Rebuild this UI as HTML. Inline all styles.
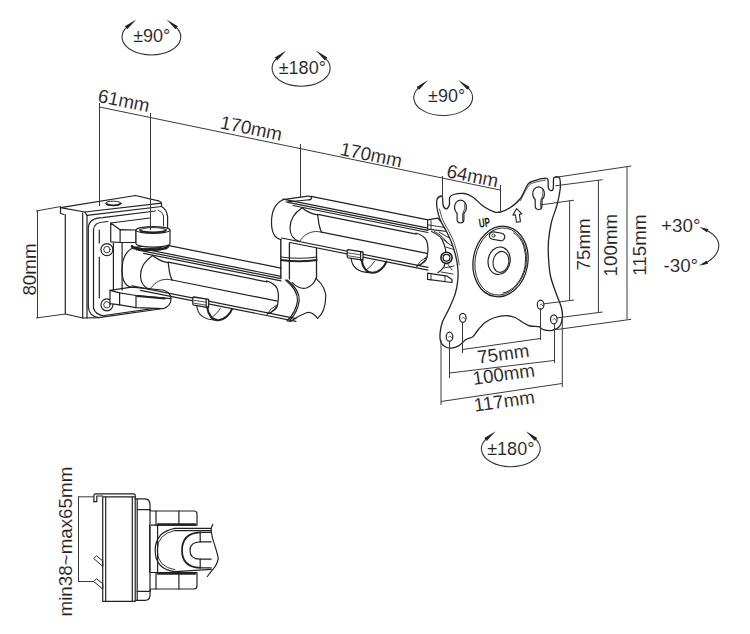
<!DOCTYPE html>
<html><head><meta charset="utf-8">
<style>
html,body{margin:0;padding:0;background:#fff;}
svg{display:block;}
text{font-family:"Liberation Sans",sans-serif;fill:#222;stroke:#fff;stroke-width:0.1px;}
</style></head>
<body>
<svg width="750" height="634" viewBox="0 0 750 634">
<path d="M126.8,27.1 A29.4,18 0 1,0 176.0,27.1" stroke="#333" stroke-width="1.1" fill="none"/>
<path d="M136.3,19.4 L127.3,29.2 L124.9,26.3 Z" fill="#222"/>
<path d="M166.5,19.4 L177.9,26.3 L175.5,29.2 Z" fill="#222"/>
<text x="151.7" y="42.4" text-anchor="middle" font-size="18">±90°</text>
<path d="M276.8,58.3 A29.1,18 0 1,0 325.4,58.3" stroke="#333" stroke-width="1.1" fill="none"/>
<path d="M286.3,50.6 L277.2,60.4 L274.8,57.5 Z" fill="#222"/>
<path d="M315.9,50.6 L327.4,57.5 L325.0,60.4 Z" fill="#222"/>
<text x="302.3" y="73.6" text-anchor="middle" font-size="18">±180°</text>
<path d="M418.6,87.7 A29.4,18 0 1,0 467.8,87.7" stroke="#333" stroke-width="1.1" fill="none"/>
<path d="M428.1,80.0 L419.1,89.8 L416.7,86.9 Z" fill="#222"/>
<path d="M458.3,80.0 L469.7,86.9 L467.3,89.8 Z" fill="#222"/>
<text x="446.6" y="101.8" text-anchor="middle" font-size="18">±90°</text>
<path d="M486.2,438.9 A29.4,18 0 1,0 535.4,438.9" stroke="#333" stroke-width="1.1" fill="none"/>
<path d="M495.7,431.2 L486.7,441.0 L484.3,438.1 Z" fill="#222"/>
<path d="M525.9,431.2 L537.3,438.1 L534.9,441.0 Z" fill="#222"/>
<text x="510.8" y="455.4" text-anchor="middle" font-size="18">±180°</text>
<path d="M703,228.5 C713,233 719,239 718.8,246 C718.5,253 713,259.5 703,264.5" stroke="#333" stroke-width="1.1" fill="none"/>
<path d="M699.6,227 L708.5,229.2 L706.8,232.3 Z M699,265.5 L706.5,260.7 L708.2,263.8 Z" fill="#222"/>
<g stroke="#222" stroke-width="1.2" fill="none" stroke-linejoin="round" stroke-linecap="round">

<path d="M60.5,207.7 L135.5,195.5 L158.5,200.8 Q161.5,201.8 161.5,204 L161.5,206.5"/>
<path d="M60.5,207.7 L60.5,213.5 L64,214.5"/>
<path d="M60.5,207.7 L84.8,212 L87,215.4"/>
<path d="M84.8,212 L161.5,203.2"/>
<path d="M87,215.4 L161.5,206.5"/>
<ellipse cx="113.4" cy="203.4" rx="8" ry="2.2" stroke-width="1"/>
<path d="M107,203.8 A6.4,1.5 0 0,0 119.8,203.8" stroke-width="1.8"/>
<path d="M65.3,214.5 L65.3,314 L82.7,318"/>
<path d="M82.7,213 L82.7,318 L98.7,317.7 L160,309"/>
<path d="M87,215.4 L87,318"/>
<path d="M88.3,307 L88.3,227.5 Q89,218 102.5,217.6 L155.4,211"/>
<path d="M88.3,307 Q89,316 98.7,317.7"/>
<path d="M93.5,308 L93.5,229.7 Q94,222.5 103.6,222 L108,221.5"/>
<path d="M93.5,308 Q95,314.5 104,316"/>
<path d="M104,315.5 L160,307.7"/>
<path d="M99.3,230 L99.3,243 M99.3,257 L99.3,298"/>
<path d="M161.5,206.5 Q166.5,209 167.6,216.5 L167.6,228"/>
<path d="M158,210 Q163,212 163.5,216 L163.5,226" stroke-width="0.9"/>
<circle cx="106.9" cy="249.6" r="6"/>
<circle cx="106.9" cy="249.6" r="3.2" stroke-width="0.9"/>
<circle cx="106.9" cy="304.8" r="6"/>
<circle cx="106.9" cy="304.8" r="3.2" stroke-width="0.9"/>

<path d="M110,290.3 L131.6,287.2 L163,290 Q171,292 171,299 Q171,306 163,308.7 L136,307.7 L120,304.9 L110,303.7 Z" fill="#fff"/>
<path d="M110,290.3 L119.6,292.9 L136,295.5 L170.8,298.6" />
<path d="M119.6,292.9 L119.6,304.9"/>

<path d="M136,295.5 L136,307.7"/>
<path d="M137,296 L165,298.5" stroke-width="1.8"/>
<path d="M161.5,244.2 L281.0,268.1"/>
<path d="M133.5,246.9 L281.0,276.4"/>
<path d="M138.5,250.1 L281.0,278.6"/>
<path d="M143.5,253.3 L281.0,280.8"/>
<path d="M168.2,262.1 L266.9,281.9"/>
<path d="M172.0,280.0 L277.5,301.1"/>
<path d="M132.0,285.8 L296.0,318.6"/>
<path d="M140.5,290.3 L296.0,321.4"/>
<g transform="translate(-149.5,47.8)">
<path d="M283,199.7 C274,204 271.5,214 271.5,222 C271.5,232 275,238.5 281,239.5"/>
<path d="M302.2,207.7 C294,213 290,220 290,228 C290,235 294,240 299.5,241.6"/>
<path d="M302.2,207.7 Q308,213 317.7,214.9"/>
<path d="M317.7,214.9 C318.5,220 318.5,226 321.5,232.2"/>
<path d="M299.5,241.6 C303,236 308,232 315.5,231.5 Q319,231.5 321.5,232.2" stroke-width="0.9"/>
<path d="M415.9,233 C421,234.5 424.7,236.6 426.5,240.5 C428,244 428.2,250 427.4,255 C427,258 425.5,261 424.7,261.5 C422,264 419.5,265.5 416.7,266.2"/>
<path d="M416.7,266.2 Q419,261 427.1,256.6 M417.5,266 Q424,263 426,258" stroke-width="0.9"/>
<path d="M283,199.7 L308,196.2 Q312,196 311.5,198.5 Q311,200 307,200 L286,202" />
</g>

<path d="M287.2,280 Q300,290 299.2,300.8 Q298,312 288.8,321.6"/>
<path d="M285.5,280 Q298,290 297.5,300.8 Q296,312 287,321"/>
<path d="M316,278.4 Q327,288 325.6,299 Q325,312 317.6,318.4"/>
<path d="M292,282.4 Q300,290 306.4,288 Q314,285 316,278.4"/>
<path d="M317.6,318.4 Q312,311 306.4,312.8 Q298,316 290.4,321.6"/>

<path d="M193.8,297 L208.60000000000002,299.4 L208.60000000000002,307.6 L193.8,305.2 Q192.8,305 192.8,303.5 L192.8,298.5 Q192.8,297 193.8,297 Z" fill="#fff" stroke-width="1.3"/>
<path d="M206.20000000000002,299.1 L206.20000000000002,307.3"/>
<path d="M194.0,300.3 L205.8,302.2 M194.0,303.2 L205.8,305.1" stroke-width="0.8"/>
<path d="M196.8,306.3 C197.8,314 202.8,319.5 214.3,320" stroke-width="1.1"/>
<path d="M207.20000000000002,307.4 C208.3,315 212.3,320.5 218.3,320.2 C224.8,319.8 230.3,314 232.0,309" stroke-width="2.1"/>
<path d="M213.0,316.4 Q216.8,314 220.3,308.5" stroke-width="0.9"/>

<path d="M113.4,243 L113.4,290 M122.1,243 L122.1,290" />
<path d="M110.7,223 L120.1,229.7 L136,230 L136,242.5 L120.1,242.5 L120.1,229.7 M110.7,223 L110.7,241.8 L120.1,242.5"/>
<path d="M110.7,223 L150,218"/>
<path d="M136,230 L136,243.5 A17,3.6 0 0,0 170,243.5 L170,230 Z" fill="#fff"/>
<ellipse cx="153" cy="230" rx="17" ry="3.4" fill="#fff" stroke-width="1.1"/>
<path d="M140,230 A13,2.4 0 0,1 166,230" stroke-width="0.9"/>
<path d="M140,230 A13,2.4 0 0,0 166,230" stroke-width="1.8"/>
<path d="M132,246.3 A18,3.5 0 0,0 168,246.3" stroke-width="2.6"/>



<path d="M280.8,239.5 L280.8,277.5" stroke-width="1.4"/>
<path d="M289.4,243 L289.4,279" stroke-width="1.3"/>
<path d="M316.5,248.5 L316.5,278.4" stroke-width="1.3"/>
<path d="M281,257 Q299,259.5 316.8,257"/>
<path d="M281,260 Q299,262.5 316.8,260" stroke-width="1.8"/>

<path d="M311.0,196.4 L428.0,219.8"/>
<path d="M283.0,199.1 L428.0,228.1"/>
<path d="M288.0,202.3 L428.0,230.3"/>
<path d="M293.0,205.5 L428.0,232.5"/>
<path d="M317.7,214.3 L416.4,234.1"/>
<path d="M321.5,232.2 L427.0,253.3"/>
<path d="M281.5,238.0 L428.0,267.3"/>
<path d="M290.0,242.5 L428.0,270.1"/>
<g transform="translate(0,0)">
<path d="M283,199.7 C274,204 271.5,214 271.5,222 C271.5,232 275,238.5 281,239.5"/>
<path d="M302.2,207.7 C294,213 290,220 290,228 C290,235 294,240 299.5,241.6"/>
<path d="M302.2,207.7 Q308,213 317.7,214.9"/>
<path d="M317.7,214.9 C318.5,220 318.5,226 321.5,232.2"/>
<path d="M299.5,241.6 C303,236 308,232 315.5,231.5 Q319,231.5 321.5,232.2" stroke-width="0.9"/>
<path d="M415.9,233 C421,234.5 424.7,236.6 426.5,240.5 C428,244 428.2,250 427.4,255 C427,258 425.5,261 424.7,261.5 C422,264 419.5,265.5 416.7,266.2"/>
<path d="M416.7,266.2 Q419,261 427.1,256.6 M417.5,266 Q424,263 426,258" stroke-width="0.9"/>
<path d="M283,199.7 L308,196.2 Q312,196 311.5,198.5 Q311,200 307,200 L286,202" />
</g>
<path d="M348.2,249.6 L363.0,252.0 L363.0,260.2 L348.2,257.8 Q347.2,257.6 347.2,256.1 L347.2,251.1 Q347.2,249.6 348.2,249.6 Z" fill="#fff" stroke-width="1.3"/>
<path d="M360.59999999999997,251.7 L360.59999999999997,259.9"/>
<path d="M348.4,252.9 L360.2,254.79999999999998 M348.4,255.79999999999998 L360.2,257.7" stroke-width="0.8"/>
<path d="M351.2,258.9 C352.2,266.6 357.2,272.1 368.7,272.6" stroke-width="1.1"/>
<path d="M361.59999999999997,260.0 C362.7,267.6 366.7,273.1 372.7,272.8 C379.2,272.4 384.7,266.6 386.4,261.6" stroke-width="2.1"/>
<path d="M367.4,269.0 Q371.2,266.6 374.7,261.1" stroke-width="0.9"/>

<path d="M427.6,219.8 L437.9,218.1 L447.3,229.2 L447.3,231.5 L427.6,229.2 Z" fill="#fff"/>
<path d="M427.6,224.8 L445,227.5 M431,220.5 L431,229.5" stroke-width="0.9"/>
<path d="M427.6,273.2 L447.3,276.2 L452,279.4 L452,282.5 L427.6,279.4 Z" fill="#fff"/>
<path d="M431,273.8 L431,280 M445,276 L445,281.5" stroke-width="0.9"/>
<path d="M431.5,231.5 C437,234 442,238 442.6,241 C445,246 445.7,249 445.7,252 C445.7,258 445.5,262 444.2,266.2 C442,270 440,271.5 437.9,272.6"/>
<path d="M434.5,231.5 C440,234 445,239 447,243" stroke-width="0.9"/>
<path d="M439,232 L451,239 M441,238 L452,246 M446,247 L455,250 M444,268 L454,266 M441,272 L453,274 M447,263 L452,270" stroke-width="0.9"/>
<circle cx="446.5" cy="257.8" r="5.6" fill="#fff" stroke-width="1.6"/>
<circle cx="446.5" cy="257.8" r="3.4" stroke-width="1.3"/>

<path d="M437.1,199.2 C437.8,197.0 440.6,196.2 441.5,196.0 C442.4,195.8 442.3,196.4 442.6,198.0 C442.9,199.6 442.6,203.7 443.2,205.5 C443.8,207.3 445.3,208.9 446.3,208.8 C447.3,208.7 448.7,206.9 449.3,205.0 C449.9,203.1 449.0,199.3 449.7,197.6 C450.4,195.8 451.3,195.2 453.7,194.5 C456.1,193.8 460.9,193.1 464.1,193.5 C467.3,193.9 469.5,194.9 472.7,197.0 C475.9,199.1 479.8,203.8 483.3,206.3 C486.9,208.8 491.1,210.9 494.0,211.8 C496.9,212.8 497.7,212.7 500.4,212.0 C503.1,211.3 506.7,209.9 510.0,207.7 C513.3,205.5 517.0,202.9 520.0,199.0 C523.0,195.1 525.7,187.2 528.0,184.2 C530.3,181.2 531.1,181.8 534.0,180.8 C536.9,179.8 543.3,178.3 545.6,178.2 C547.9,178.1 547.5,178.3 548.0,180.0 C548.5,181.7 547.9,186.4 548.4,188.2 C548.9,190.0 550.0,190.5 550.8,190.6 C551.6,190.7 552.7,191.0 553.2,189.0 C553.7,187.0 553.2,180.5 553.6,178.5 C554.0,176.5 554.7,177.2 555.5,177.0 C556.3,176.8 557.6,176.6 558.4,177.0 C559.1,177.4 559.7,177.5 560.0,179.5 C560.3,181.5 560.7,184.8 560.2,189.0 C559.7,193.2 558.5,199.5 557.0,205.0 C555.5,210.5 552.9,216.2 551.5,222.0 C550.1,227.8 549.1,234.3 548.6,240.0 C548.1,245.7 548.1,250.0 548.4,256.0 C548.7,262.0 549.2,269.8 550.5,276.0 C551.8,282.2 554.2,287.7 556.0,293.0 C557.8,298.3 560.5,303.8 561.5,308.0 C562.5,312.2 562.7,314.9 562.3,318.0 C561.9,321.1 561.0,324.6 559.3,326.7 C557.6,328.8 554.7,329.8 552.0,330.3 C549.3,330.8 545.4,330.2 543.2,329.6 C541.0,329.0 541.0,327.3 538.8,326.7 C536.6,326.1 532.6,326.7 530.0,326.0 C527.4,325.3 525.5,323.9 523.0,322.5 C520.5,321.1 517.9,318.6 515.0,317.5 C512.1,316.4 509.1,315.6 505.8,315.6 C502.5,315.6 498.5,316.4 495.0,317.5 C491.5,318.6 487.8,320.4 485.0,322.5 C482.2,324.6 480.0,327.6 478.0,330.0 C476.0,332.4 474.9,335.1 472.9,336.7 C470.9,338.3 468.3,338.0 466.0,339.5 C463.7,341.0 461.4,344.2 459.0,345.6 C456.6,347.0 453.7,347.9 451.4,348.1 C449.1,348.3 446.9,347.9 445.1,346.8 C443.3,345.8 441.5,344.1 440.7,341.8 C439.9,339.5 439.8,336.4 440.1,333.0 C440.4,329.6 441.1,325.6 442.6,321.6 C444.1,317.6 446.8,313.6 448.9,309.0 C451.0,304.4 453.7,298.7 455.2,293.9 C456.7,289.1 457.4,284.3 457.8,280.0 C458.2,275.7 458.2,272.2 457.8,268.0 C457.4,263.8 456.6,259.2 455.5,255.0 C454.4,250.8 453.0,246.4 451.5,242.5 C450.0,238.6 448.3,235.2 446.5,231.5 C444.7,227.8 442.1,224.2 440.5,220.5 C438.9,216.8 437.8,212.6 437.2,209.0 C436.6,205.4 436.4,201.4 437.1,199.2 Z" fill="#fff" stroke-width="1.3"/>
<path d="M439.5,209.0 C440.1,210.9 441.4,216.8 443.0,220.5 C444.6,224.2 447.2,227.8 449.0,231.5 C450.8,235.2 452.6,238.6 454.0,242.5 C455.4,246.4 456.6,251.2 457.5,255.0 C458.4,258.8 458.9,263.3 459.2,265.0" stroke-width="0.8"/>
<path d="M520.5,200.5 C521.8,198.1 526.2,189.0 528.5,186.0 C530.8,183.0 531.1,183.6 534.0,182.6 C536.9,181.6 543.7,180.4 545.6,180.0" stroke-width="0.8"/>
<path d="M457.1,213.2 A6.0,7.2 0 1,1 463.9,213.2 L463.9,219.6 A3.4,3.4 0 0,1 457.1,219.6 Z" stroke-width="1.2"/>
<path d="M535.2,199.5 A5.9,7.0 0 1,1 542.0,199.5 L542.0,206.1 A3.4,3.4 0 0,1 535.2,206.1 Z" stroke-width="1.2"/>
<path d="M464.9,203 Q465.6,209 462.6,214 L462.6,221" stroke-width="0.8"/><path d="M543,189.5 Q543.7,195.5 540.7,200.5 L540.7,207.5" stroke-width="0.8"/>
<ellipse cx="449.5" cy="336.7" rx="3.3" ry="4.5" stroke-width="1.2"/>
<path d="M448.5,337.2 Q450.5,334.7 451.5,337.7" stroke-width="0.7"/>
<ellipse cx="462.8" cy="317.8" rx="3.3" ry="4.5" stroke-width="1.2"/>
<path d="M461.8,318.3 Q463.8,315.8 464.8,318.8" stroke-width="0.7"/>
<ellipse cx="540.6" cy="304.7" rx="3.3" ry="4.5" stroke-width="1.2"/>
<path d="M539.6,305.2 Q541.6,302.7 542.6,305.7" stroke-width="0.7"/>
<ellipse cx="553.8" cy="319.3" rx="3.3" ry="4.5" stroke-width="1.2"/>
<path d="M552.8,319.8 Q554.8,317.3 555.8,320.3" stroke-width="0.7"/>
<g transform="translate(500.5,261.5) rotate(10)">
<ellipse cx="0" cy="0" rx="27.3" ry="35.5" stroke-width="1.3"/>
<ellipse cx="0.2" cy="0" rx="25.6" ry="33.8" stroke-width="0.9"/>
<path d="M8,-30.5 A22.6,31.5 0 0,1 8,30.5" stroke-width="0.9"/>
<ellipse cx="-1.5" cy="-0.5" rx="11" ry="13.8" stroke-width="1.2"/>
<ellipse cx="0.5" cy="0.3" rx="7.8" ry="10.6" stroke-width="1.1"/>
<rect x="-15.5" y="-28" width="15.5" height="7.5" rx="3.7" stroke-width="1.2"/>
<circle cx="-11.5" cy="-24.3" r="1.6" stroke-width="0.8"/>
</g>
<text transform="translate(479.5,227.8) rotate(-8) scale(0.62,1)" font-size="12.8" font-weight="bold" style="fill:#111;stroke:none">UP</text>
<g transform="translate(517.5,215) rotate(-8)"><path d="M0,-6.5 L-4.5,-0.5 L-2,-0.5 L-2,7 L2,7 L2,-0.5 L4.5,-0.5 Z" stroke-width="1.1" fill="#fff"/></g>

<path d="M93.9,501.7 L93.9,495.5 Q93.9,493.9 95.5,493.9 L133.6,493.9 Q135.2,493.9 135.2,495.5 L135.2,496.8"/>
<path d="M93.9,501.7 L96.8,501.7 L96.8,496 L102.7,496"/>
<path d="M102.7,496.8 L102.7,601.3 L135.2,601.3 L135.2,496.8 Z"/>
<path d="M105.7,497 L105.7,601"/>
<path d="M132.3,497 L132.3,601"/>
<path d="M135.2,498.8 L145,498.8 Q150,499 150,504.7 L150,595 Q150,600.3 145,600.3 L135.2,600.3"/>
<path d="M137.2,499 L137.2,600"/>
<path d="M137.2,509.6 L150,509.6 M137.2,591.4 L150,591.4"/>
<path d="M96.2,556 L93.7,558.5 L102.8,566.4 L102.8,561.4 Z M96.2,579 L93.7,581.5 L102.8,589.1 L102.8,584.1 Z" stroke-width="1"/>
<path d="M150,509.6 Q150,511 151.3,511 L194,511 Q197,511 197,514 L197,525.2 L151.3,525.2"/>
<path d="M156,511 L156,525.2 M178.9,511 L178.9,525.2"/>
<path d="M158,524.5 L195,524.5" stroke-width="2.4"/>
<path d="M151.3,572.5 L197,572.5 L197,586 Q197,589 194,589 L151.3,589 Q150,589 150,591.4"/>
<path d="M156,572.5 L156,589 M178.9,572.5 L178.9,589"/>
<path d="M158,573.5 L195,573.5" stroke-width="2.4"/>
<path d="M149.7,525.2 L149.7,572.5 M157.6,525.2 L157.6,572.5"/>
<path d="M175,528.4 Q155.2,532 155.2,550.4 Q155.2,569 175,571.7"/>
<path d="M175,530.4 Q157.2,534 157.2,550.4 Q157.2,567 175,569.7" stroke-width="0.9"/>
<path d="M175,528.4 L211.2,528.4 M175,530.7 L211.2,530.7 M175,571.7 L211.2,569.4"/>
<path d="M200.2,532.3 Q182,533 182,550.4 Q182,567 200.2,567.8" stroke-width="1.8"/>
<path d="M200.2,541.8 Q190,542 190,550.4 Q190,559 200.2,559.1"/>
<path d="M200.2,532.3 L211.2,532.3 M200.2,541.8 L211.2,541.8 M200.2,559.1 L211.2,559.1 M200.2,567.8 L211.2,567.8 M200.2,532.3 L200.2,541.8 M200.2,559.1 L200.2,567.8"/>
<path d="M212.8,524.4 Q210.5,529 211.2,531.5 Q212,538 214.4,544.1 Q217,552 218.3,558.3 Q217,565 212.8,569.4 Q210,573 207.3,576.5"/>

</g>
<g stroke="#3a3a3a" stroke-width="1" fill="none">
<line x1="99.5" y1="107" x2="500" y2="190"/>
<line x1="99.5" y1="103" x2="99.5" y2="206"/>
<line x1="150.5" y1="113" x2="150.5" y2="230"/>
<line x1="300.5" y1="144" x2="300.5" y2="197"/>
<line x1="442.5" y1="176" x2="442.5" y2="199"/>
<line x1="500.5" y1="185" x2="500.5" y2="212"/>
<line x1="37.5" y1="211" x2="37.5" y2="318"/>
<line x1="36" y1="211" x2="61" y2="206.5"/>
<line x1="36" y1="318" x2="65.5" y2="314"/>
<line x1="462.5" y1="349.5" x2="540.5" y2="338.5"/>
<line x1="462.5" y1="322" x2="462.5" y2="353"/>
<line x1="540.5" y1="308" x2="540.5" y2="340"/>
<line x1="449.5" y1="373" x2="554" y2="360.5"/>
<line x1="449.5" y1="341" x2="449.5" y2="378"/>
<line x1="554.5" y1="323" x2="554.5" y2="363"/>
<line x1="441" y1="401.5" x2="562" y2="383.5"/>
<line x1="441" y1="340" x2="441" y2="405"/>
<line x1="562.3" y1="318" x2="562.3" y2="387"/>
<line x1="569.6" y1="200.5" x2="569.6" y2="300.3"/>
<line x1="540" y1="205" x2="574" y2="200.2"/>
<line x1="543.2" y1="303.9" x2="574" y2="300"/>
<line x1="598.4" y1="180" x2="598.4" y2="312"/>
<line x1="555.2" y1="185.8" x2="602.7" y2="179.7"/>
<line x1="557" y1="317.9" x2="602.6" y2="312"/>
<line x1="627" y1="166.5" x2="627" y2="319.5"/>
<line x1="555.2" y1="177.4" x2="631.3" y2="166"/>
<line x1="556.4" y1="329.6" x2="631.2" y2="319.3"/>
<line x1="78.5" y1="496.8" x2="78.5" y2="581.5"/>
<line x1="78" y1="496.8" x2="93.9" y2="496.8"/>
<line x1="78" y1="581.5" x2="93.7" y2="581.5"/>
</g>
<g font-size="18.8">
<text transform="translate(122.5,107) rotate(11.7)" text-anchor="middle">61mm</text>
<text transform="translate(250,134.6) rotate(11.7)" text-anchor="middle">170mm</text>
<text transform="translate(369.8,161) rotate(11.7)" text-anchor="middle">170mm</text>
<text transform="translate(471.3,182.2) rotate(11.7)" text-anchor="middle">64mm</text>
<text transform="translate(36.2,269.5) rotate(-90)" text-anchor="middle">80mm</text>
<text transform="translate(504.1,360.2) rotate(-8)" text-anchor="middle">75mm</text>
<text transform="translate(504.6,380.6) rotate(-8)" text-anchor="middle">100mm</text>
<text transform="translate(505.1,407.4) rotate(-8)" text-anchor="middle">117mm</text>
<text transform="translate(589.9,244.4) rotate(-90)" text-anchor="middle">75mm</text>
<text transform="translate(617.1,245.1) rotate(-90)" text-anchor="middle">100mm</text>
<text transform="translate(646.2,245.1) rotate(-90)" text-anchor="middle">115mm</text>
<text transform="translate(71.8,541.6) rotate(-90)" text-anchor="middle">min38~max65mm</text>
<text x="680.8" y="232" text-anchor="middle">+30°</text>
<text x="680.8" y="271.6" text-anchor="middle">-30°</text>
</g>
</svg></body></html>
